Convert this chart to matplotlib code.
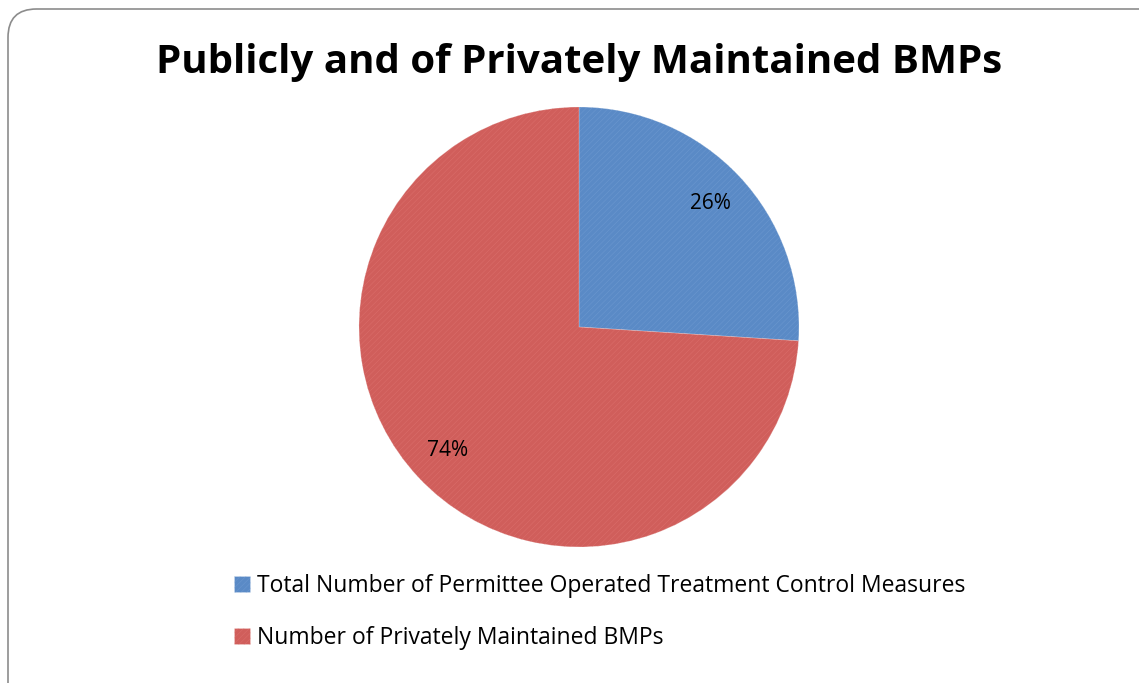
import matplotlib.pyplot as plt
from matplotlib.patches import FancyBboxPatch

labels = ['Total Number of Permittee Operated Treatment Control Measures',
          'Number of Privately Maintained BMPs']
shares = [26, 74]
colors = ['#5a8ac6', '#d05e5b']
title = 'Publicly and of Privately Maintained BMPs'

plt.rcParams['font.family'] = ['Open Sans', 'DejaVu Sans']
plt.rcParams['hatch.linewidth'] = 0.4

W, H = 1139, 683
fig = plt.figure(figsize=(W / 100, H / 100), dpi=100)

# rounded frame around the chart
frame = FancyBboxPatch((8 / W, -0.05), 1.2, 1 - 9 / H + 0.05,
                       boxstyle='round,pad=0,rounding_size=0.025',
                       transform=fig.transFigure, facecolor='white',
                       edgecolor='#8c8c8c', linewidth=1.2, mutation_aspect=W / H,
                       zorder=-5)
fig.patches.append(frame)

fig.text(579 / W, 1 - 62 / H, title, ha='center', va='center',
         fontsize=29, fontweight='bold')

# pie: centre (579, 327), radius 220 px
cx, cy, r = 579, 327, 220
ax = fig.add_axes([(cx - r) / W, 1 - (cy + r) / H, 2 * r / W, 2 * r / H])
ax.set_zorder(2)
wedges, texts, autotexts = ax.pie(shares, colors=colors, startangle=90,
                                  counterclock=False, autopct='%1.0f%%',
                                  pctdistance=0.82,
                                  wedgeprops=dict(linewidth=0.6, edgecolor='#ffffff40'),
                                  textprops=dict(fontsize=15))
hatch_cols = ['#6b97cf', '#da6d6a']
for w, hc in zip(wedges, hatch_cols):
    w.set_hatch('//////')
    w._hatch_color = plt.matplotlib.colors.to_rgba(hc)
ax.set_xlim(-1, 1)
ax.set_ylim(-1, 1)
ax.set_aspect('equal')
ax.axis('off')

leg = fig.legend(wedges, labels, loc='upper left',
                 bbox_to_anchor=(213 / W, 1 - 553 / H), frameon=False,
                 fontsize=16.5, handlelength=0.7, handleheight=0.7,
                 handletextpad=0.3, labelspacing=1.25)

fig.savefig('out.png', dpi=100)
